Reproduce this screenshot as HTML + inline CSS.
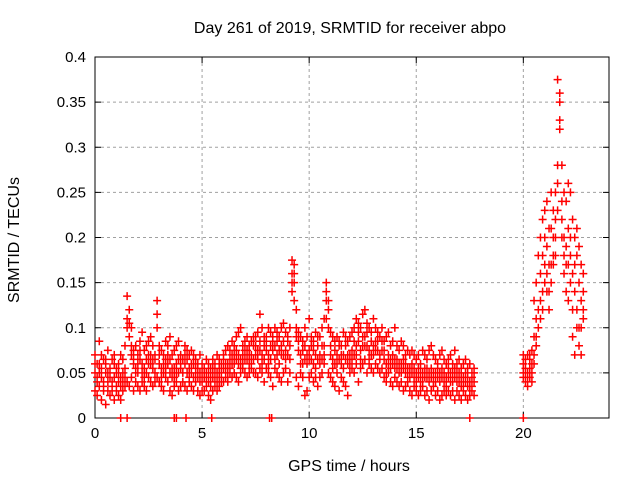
<!DOCTYPE html>
<html><head><meta charset="utf-8"><style>
html,body{margin:0;padding:0;background:#fff;}
svg{display:block;font-family:"Liberation Sans",sans-serif;}
</style></head><body>
<svg id="chart" width="640" height="480">
<text x="350" y="33" font-size="16" text-anchor="middle">Day 261 of 2019, SRMTID for receiver abpo</text>
<text x="349" y="471" font-size="16" text-anchor="middle">GPS time / hours</text>
<text x="19" y="240" font-size="16" text-anchor="middle" transform="rotate(-90 19 240)">SRMTID / TECUs</text>
<g id="grid"></g>
<g id="axes"></g>
<g id="pts"></g>
</svg>
<script>
const xTicks=[0,5,10,15,20];
const yTicks=[0,0.05,0.1,0.15,0.2,0.25,0.3,0.35,0.4];
const yTickLabels=["0","0.05","0.1","0.15","0.2","0.25","0.3","0.35","0.4"];
const hours=[0,0.1,0.2,0.3,0.4,0.5,0.6,0.7,0.8,0.9,1.0,1.1,1.2,1.3,1.4,
1.5,1.6,1.7,1.8,1.9,2.0,2.1,2.2,2.3,2.4,2.5,2.6,2.7,2.8,2.9,
3.0,3.1,3.2,3.3,3.4,3.5,3.6,3.7,3.8,3.9,4.0,4.1,4.2,4.3,4.4,
4.5,4.6,4.7,4.8,4.9,5.0,5.1,5.2,5.3,5.4,5.5,5.6,5.7,5.8,5.9,
6.0,6.1,6.2,6.3,6.4,6.5,6.6,6.7,6.8,6.9,7.0,7.1,7.2,7.3,7.4,
7.5,7.6,7.7,7.8,7.9,8.0,8.1,8.2,8.3,8.4,8.5,8.6,8.7,8.8,8.9,
9.0,9.1,9.2,9.3,9.4,9.5,9.6,9.7,9.8,9.9,10.0,10.1,10.2,10.3,10.4,
10.5,10.6,10.7,10.8,10.9,11.0,11.1,11.2,11.3,11.4,11.5,11.6,11.7,11.8,11.9,
12.0,12.1,12.2,12.3,12.4,12.5,12.6,12.7,12.8,12.9,13.0,13.1,13.2,13.3,13.4,
13.5,13.6,13.7,13.8,13.9,14.0,14.1,14.2,14.3,14.4,14.5,14.6,14.7,14.8,14.9,
15.0,15.1,15.2,15.3,15.4,15.5,15.6,15.7,15.8,15.9,16.0,16.1,16.2,16.3,16.4,
16.5,16.6,16.7,16.8,16.9,17.0,17.1,17.2,17.3,17.4,17.5,17.6,17.7];
const valsA=[.05,.04,.06,.045,.035,.05,.04,.055,.03,.045,.05,.04,.035,.05,.045,
.11,.12,.08,.06,.055,.05,.065,.06,.045,.05,.06,.07,.055,.065,.1,
.06,.055,.05,.065,.06,.05,.055,.045,.06,.05,.055,.065,.06,.05,.055,
.05,.06,.055,.045,.05,.04,.045,.05,.04,.035,.045,.05,.04,.045,.05,
.055,.06,.05,.065,.06,.07,.065,.06,.055,.07,.075,.065,.06,.07,.065,
.07,.065,.075,.06,.08,.075,.07,.065,.075,.08,.07,.075,.08,.07,.075,
.07,.08,.16,.17,.1,.075,.07,.06,.065,.07,.075,.065,.06,.07,.065,
.07,.065,.08,.14,.12,.07,.065,.06,.07,.065,.06,.07,.065,.06,.07,
.075,.07,.08,.085,.075,.08,.09,.08,.075,.07,.08,.085,.075,.07,.075,
.065,.06,.07,.055,.06,.065,.055,.05,.06,.055,.05,.055,.045,.05,.055,
.05,.045,.04,.05,.045,.055,.04,.045,.05,.04,.045,.05,.045,.04,.045,
.045,.05,.04,.045,.05,.04,.035,.045,.04,.035,.04,.035,.04];
const valsB=[.07,.06,.085,.07,.065,.06,.075,.05,.065,.07,.055,.06,.07,.065,.08,
.135,.09,.1,.075,.08,.07,.085,.095,.075,.08,.085,.09,.08,.07,.13,
.08,.075,.07,.085,.08,.09,.07,.075,.08,.085,.07,.065,.08,.075,.07,
.075,.07,.065,.06,.07,.06,.055,.065,.06,.055,.065,.06,.07,.065,.06,
.07,.075,.08,.075,.085,.08,.09,.095,.1,.08,.085,.09,.08,.085,.09,
.09,.095,.115,.1,.09,.085,.1,.095,.09,.1,.095,.09,.1,.105,.095,
.09,.1,.175,.15,.12,.095,.09,.085,.1,.09,.11,.09,.085,.095,.09,
.09,.1,.11,.15,.13,.095,.09,.085,.09,.085,.08,.095,.09,.085,.09,
.095,.1,.11,.105,.1,.115,.12,.105,.1,.095,.11,.1,.095,.09,.1,
.085,.09,.095,.08,.085,.1,.08,.075,.085,.08,.07,.075,.07,.075,.07,
.065,.07,.06,.075,.07,.065,.075,.08,.07,.065,.06,.07,.075,.065,.06,
.065,.07,.06,.075,.06,.065,.055,.06,.065,.055,.06,.05,.055];
const valsC=[.03,.025,.035,.02,.03,.015,.03,.025,.035,.02,.03,.025,.02,.03,.035,
.04,.035,.045,.03,.04,.035,.03,.04,.035,.03,.045,.04,.035,.04,.045,
.04,.035,.03,.045,.04,.03,.025,.035,.04,.03,.035,.04,.035,.03,.04,
.035,.03,.04,.03,.025,.03,.03,.035,.025,.02,.03,.035,.03,.035,.04,
.04,.045,.04,.05,.045,.05,.045,.04,.05,.055,.05,.045,.05,.055,.05,
.05,.045,.055,.05,.04,.055,.05,.045,.035,.055,.05,.045,.04,.05,.055,
.04,.05,.14,.13,.045,.035,.05,.045,.025,.03,.045,.05,.04,.045,.035,
.045,.05,.06,.11,.05,.045,.04,.035,.05,.03,.045,.04,.035,.025,.05,
.055,.05,.06,.04,.055,.06,.065,.05,.06,.055,.05,.06,.055,.05,.055,
.045,.04,.05,.04,.035,.045,.04,.035,.04,.03,.035,.04,.03,.025,.035,
.03,.025,.03,.035,.025,.03,.02,.03,.035,.025,.03,.02,.025,.03,.025,
.03,.025,.03,.02,.03,.025,.02,.03,.025,.02,.025,.03,.025];
const valsH=[.06,.045,.05,.055,.04,.065,.05,.045,.04,.06,.035,.05,.045,.04,.055,
.1,.105,.07,.065,.05,.06,.075,.05,.055,.065,.07,.06,.065,.05,.115,
.07,.045,.06,.055,.07,.065,.045,.055,.05,.065,.06,.05,.07,.065,.045,
.06,.045,.05,.055,.04,.05,.055,.04,.05,.045,.055,.04,.05,.055,.045,
.065,.05,.06,.055,.07,.06,.075,.07,.065,.06,.065,.075,.07,.06,.08,
.08,.075,.085,.07,.065,.09,.06,.08,.085,.065,.085,.06,.07,.085,.065,
.085,.065,.15,.16,.09,.085,.06,.075,.08,.06,.065,.08,.075,.055,.08,
.06,.08,.07,.13,.1,.08,.055,.075,.06,.08,.07,.055,.08,.07,.06,
.065,.085,.07,.095,.065,.09,.08,.095,.065,.085,.07,.075,.085,.065,.085,
.075,.05,.06,.065,.07,.055,.065,.06,.05,.065,.06,.045,.055,.06,.045,
.04,.055,.05,.045,.055,.045,.05,.055,.04,.05,.055,.04,.055,.05,.035,
.055,.04,.05,.055,.04,.05,.045,.035,.05,.045,.035,.045,.05];
const hours2=[20.0,20.1,20.2,20.3,20.4,20.5,20.6,20.7,20.8,20.9,21.0,21.1,21.2,21.3,21.4,21.5,21.6,21.7,21.8,21.9,22.0,22.1,22.2,22.3,22.4,22.5,22.6,22.7,22.8];
const valsD=[.06,.055,.05,.065,.06,.09,.11,.12,.16,.18,.2,.19,.17,.21,.2,.22,.28,.33,.24,.2,.19,.21,.2,.16,.17,.18,.15,.13,.12];
const valsE=[.07,.065,.07,.07,.075,.13,.15,.18,.2,.22,.23,.24,.21,.25,.23,.25,.375,.36,.28,.25,.24,.26,.25,.22,.2,.21,.19,.17,.16];
const valsF=[.05,.045,.04,.055,.05,.07,.09,.1,.11,.12,.15,.16,.14,.15,.17,.18,.23,.35,.2,.16,.14,.17,.15,.12,.14,.12,.1,.1,.11];
const valsG=[.045,.04,.035,.045,.04,.06,.08,.1,.13,.14,.17,.14,.12,.17,.18,.2,.26,.32,.22,.18,.17,.13,.18,.09,.07,.1,.08,.07,.14];
const zeroHours=[1.2,1.5,3.7,3.8,4.25,5.45,8.15,8.25,17.5,20.0];

const L=95,R=609,T=57,B=418,XMAX=24,YMAX=0.4;
const xs=h=>L+(R-L)*h/XMAX;
const ys=v=>B-(B-T)*v/YMAX;
const NS="http://www.w3.org/2000/svg";
function mk(tag,attrs,parent){const e=document.createElementNS(NS,tag);for(const k in attrs)e.setAttribute(k,attrs[k]);parent.appendChild(e);return e;}
const grid=document.getElementById('grid'),axes=document.getElementById('axes'),pts=document.getElementById('pts');
yTicks.forEach((v,i)=>{
  const y=ys(v);
  if(i>0&&i<yTicks.length-1){const g=mk('line',{x1:L,x2:R,y1:y,y2:y,stroke:'#a0a0a0','stroke-dasharray':'3,3','stroke-width':1},grid);
  
  }
  mk('line',{x1:L,x2:L+6,y1:y,y2:y,stroke:'#000'},axes);
  mk('line',{x1:R,x2:R-6,y1:y,y2:y,stroke:'#000'},axes);
  const t=mk('text',{x:L-9,y:y+5,'font-size':15,'text-anchor':'end'},axes);
  t.textContent=yTickLabels[i];
  
  
});
xTicks.forEach(h=>{
  const x=xs(h);
  if(h>0){const g=mk('line',{x1:x,x2:x,y1:T,y2:B,stroke:'#a0a0a0','stroke-dasharray':'3,3','stroke-width':1},grid);
  
  }
  mk('line',{x1:x,x2:x,y1:B,y2:B-6,stroke:'#000'},axes);
  mk('line',{x1:x,x2:x,y1:T,y2:T+6,stroke:'#000'},axes);
  const t=mk('text',{x:x,y:B+20,'font-size':15,'text-anchor':'middle'},axes);
  t.textContent=String(h);
  
  
});
const frame=mk('rect',{x:L,y:T,width:R-L,height:B-T,fill:'none',stroke:'#000','stroke-width':1},axes);


let d='';
function cross(h,v){const x=xs(h),y=ys(v);d+=`M${x-4} ${y}h8M${x} ${y-4}v8`;}
[valsA,valsB,valsC,valsH].forEach(arr=>arr.forEach((v,i)=>cross(hours[i],v)));
[valsD,valsE,valsF,valsG].forEach(arr=>arr.forEach((v,i)=>cross(hours2[i],v)));
zeroHours.forEach(h=>cross(h,0));
const p=mk('path',{d:d,stroke:'#ff0000','stroke-width':1.5,fill:'none'},pts);


</script>
</body></html>
